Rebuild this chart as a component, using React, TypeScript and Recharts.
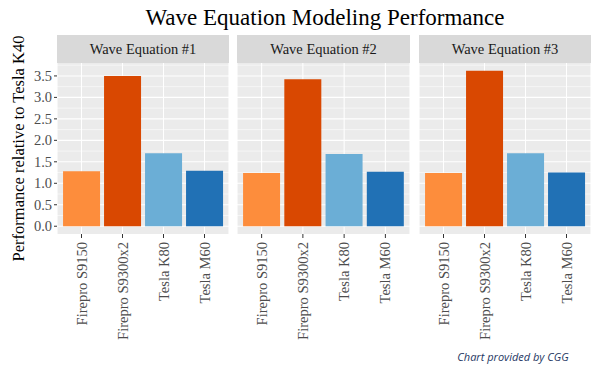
import { BarChart, Bar, XAxis, YAxis, CartesianGrid, Cell } from 'recharts';

const devices = ['Firepro S9150', 'Firepro S9300x2', 'Tesla K80', 'Tesla M60'];
const wave1 = [1.28, 3.5, 1.7, 1.29];
const wave2 = [1.24, 3.42, 1.68, 1.27];
const wave3 = [1.24, 3.62, 1.7, 1.25];
const panelTitles = ['Wave Equation #1', 'Wave Equation #2', 'Wave Equation #3'];
const yTicks = [0, 0.5, 1, 1.5, 2, 2.5, 3, 3.5];
const yMinor = [0.25, 0.75, 1.25, 1.75, 2.25, 2.75, 3.25, 3.75];

const barColors = ['#FD8D3C', '#D94801', '#6BAED6', '#2171B5'];
const SERIF = '"Liberation Serif", "Times New Roman", serif';

// ggplot-style 5% expansion around the data range
const yMax = Math.max(...wave1, ...wave2, ...wave3);
const yDomain = [-yMax * 0.05, yMax * 1.05];

const panels = [
  { title: panelTitles[0], values: wave1, left: 0, width: 229, marginLeft: 27, showY: true },
  { title: panelTitles[1], values: wave2, left: 237, width: 173, marginLeft: 0, showY: false },
  { title: panelTitles[2], values: wave3, left: 419, width: 172, marginLeft: 0, showY: false },
];

const PLOT_TOP = 63;
const PLOT_BOTTOM = 234;
const H = 375;

function RotatedTick(props: any) {
  const { x, y, payload } = props;
  return (
    <text
      x={x}
      y={y}
      transform={`rotate(-90, ${x}, ${y})`}
      textAnchor="end"
      dy="0.35em"
      fontFamily={SERIF}
      fontSize={14.5}
      fill="#4D4D4D"
    >
      {payload.value}
    </text>
  );
}

function YTick(props: any) {
  const { x, y, payload } = props;
  return (
    <text x={x} y={y} dy="0.35em" textAnchor="end" fontFamily={SERIF} fontSize={14.5} fill="#4D4D4D">
      {Number(payload.value).toFixed(1)}
    </text>
  );
}

function Panel({ values, left, width, marginLeft, showY }: any) {
  const data = devices.map((name, i) => ({ name, value: values[i] }));
  return (
    <div style={{ position: 'absolute', left, top: 0 }}>
      <BarChart
        width={width}
        height={H}
        data={data}
        margin={{ top: PLOT_TOP, right: 0, bottom: 0, left: marginLeft }}
        barCategoryGap="5%"
      >
        <CartesianGrid fill="#EBEBEB" stroke="#FFFFFF" strokeWidth={1.1} horizontalValues={yTicks} />
        <CartesianGrid fillOpacity={0} stroke="#FFFFFF" strokeWidth={0.55} vertical={false} horizontalValues={yMinor} />
        <XAxis
          dataKey="name"
          height={H - PLOT_BOTTOM}
          axisLine={false}
          tickSize={4}
          tickMargin={4}
          tickLine={{ stroke: '#333333' }}
          padding={{ left: 4, right: 4 }}
          tick={<RotatedTick />}
          interval={0}
        />
        <YAxis
          hide={!showY}
          width={30}
          type="number"
          domain={yDomain}
          allowDataOverflow
          ticks={yTicks}
          interval={0}
          axisLine={false}
          tickSize={3}
          tickMargin={2}
          tickLine={{ stroke: '#333333' }}
          tick={<YTick />}
        />
        <Bar dataKey="value" isAnimationActive={false}>
          {data.map((d, i) => (
            <Cell key={d.name} fill={barColors[i]} />
          ))}
        </Bar>
      </BarChart>
    </div>
  );
}

export default function App() {
  const yMid = (PLOT_TOP + PLOT_BOTTOM) / 2;
  return (
    <div style={{ position: 'absolute', left: 0, top: 0, width: 600, height: H, background: '#FFFFFF', fontFamily: SERIF }}>
      {panels.map((p) => (
        <Panel key={p.title} {...p} />
      ))}
      <svg width={600} height={H} style={{ position: 'absolute', left: 0, top: 0, pointerEvents: 'none' }}>
        <text x={325} y={25} textAnchor="middle" fontFamily={SERIF} fontSize={23} fill="#000000">
          Wave Equation Modeling Performance
        </text>
        {panels.map((p) => {
          const x0 = p.left + p.marginLeft + (p.showY ? 30 : 0);
          const w = p.left + p.width - x0;
          return (
            <g key={p.title}>
              <rect x={x0} y={35} width={w} height={PLOT_TOP - 35} fill="#D9D9D9" />
              <text x={x0 + w / 2} y={49} dy="0.35em" textAnchor="middle" fontFamily={SERIF} fontSize={14.5} fill="#1A1A1A">
                {p.title}
              </text>
            </g>
          );
        })}
        <text
          x={18}
          y={yMid}
          transform={`rotate(-90, 18, ${yMid})`}
          textAnchor="middle"
          dy="0.35em"
          fontFamily={SERIF}
          fontSize={16.5}
          fill="#000000"
        >
          Performance relative to Tesla K40
        </text>
        <text x={513} y={361} textAnchor="middle" fontFamily='"Open Sans", sans-serif' fontStyle="italic" fontSize={11} fill="#1F3864">
          Chart provided by CGG
        </text>
      </svg>
    </div>
  );
}
